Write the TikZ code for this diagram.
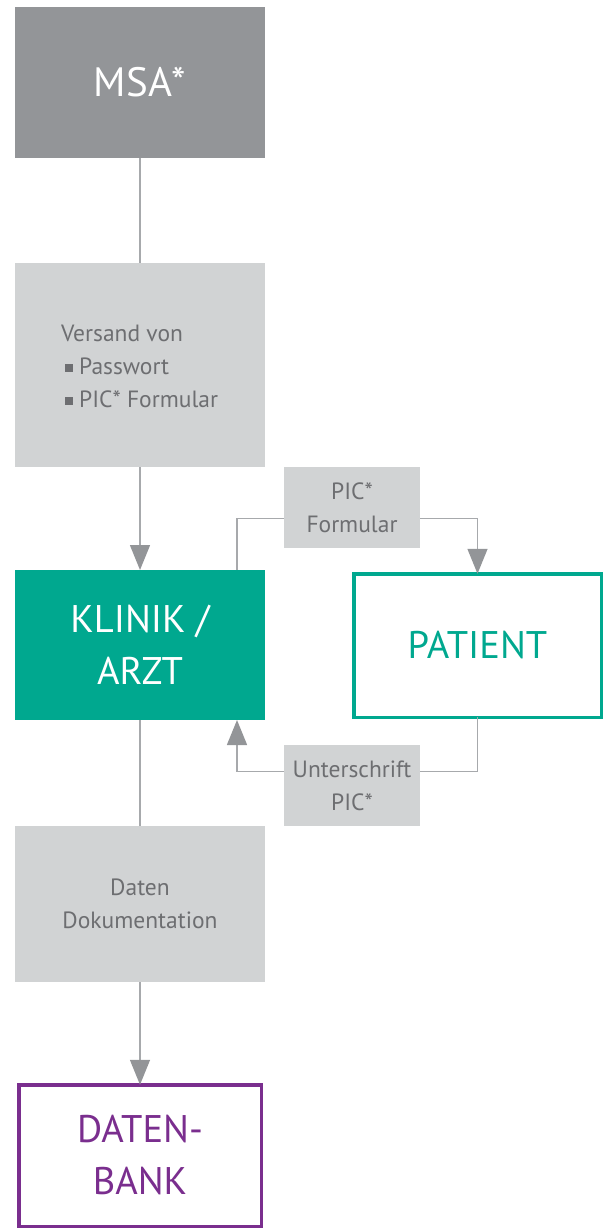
\documentclass[tikz,border=0pt]{standalone}
\usepackage{fontspec}
\setmainfont{PT Sans}
\usetikzlibrary{arrows.meta}
\definecolor{msagray}{HTML}{939598}
\definecolor{lightbox}{HTML}{D1D3D4}
\definecolor{txtgray}{HTML}{6D6E71}
\definecolor{linegray}{HTML}{A7A9AC}
\definecolor{tipgray}{HTML}{939598}
\definecolor{teal}{HTML}{00A88F}
\definecolor{purp}{HTML}{7A2E8E}
\newcommand{\bulsq}{\textcolor{txtgray}{\rule[2pt]{8pt}{8pt}}}
\begin{document}
\begin{tikzpicture}[x=1pt,y=-1pt,
  box/.style={inner sep=0pt,outer sep=0pt,align=center},
  bigtxt/.style={font=\fontsize{38.5}{52}\selectfont},
  smalltxt/.style={font=\fontsize{23.5}{33}\selectfont,text=txtgray},
  conn/.style={draw=linegray,line width=1.5pt},
  tip/.style={-{Triangle[width=20pt,length=25pt,color=tipgray]}}
]
\useasboundingbox (0,0) rectangle (611,1230);
\node[box,fill=msagray,minimum width=250pt,minimum height=151pt,font=\fontsize{41}{52}\selectfont,text=white] (msa) at (140,82.5) {MSA*};
\node[box,fill=lightbox,minimum width=250pt,minimum height=204pt] (versand) at (140,365) {};
\node[smalltxt,anchor=west,align=left,inner sep=0pt] (vtext) at (61,366) {Versand von\\\hspace{4pt}\bulsq\hspace{6pt}Passwort\\\hspace{4pt}\bulsq\hspace{6pt}PIC* Formular};
\node[box,fill=teal,minimum width=250pt,minimum height=150pt,bigtxt,text=white] (klinik) at (140,645) {KLINIK /\\ARZT};
\node[box,fill=lightbox,minimum width=136pt,minimum height=81pt,smalltxt] (pic) at (352,507.5) {PIC*\\Formular};
\node[box,draw=teal,line width=3.5pt,minimum width=247.5pt,minimum height=143.5pt,bigtxt,text=teal] (patient) at (477.5,645.5) {PATIENT};
\node[box,fill=lightbox,minimum width=136pt,minimum height=81pt,smalltxt] (unter) at (352,785.5) {Unterschrift\\PIC*};
\node[box,fill=lightbox,minimum width=250pt,minimum height=156pt,smalltxt] (daten) at (140,904) {Daten\\Dokumentation};
\node[box,draw=purp,line width=3.5pt,minimum width=242.5pt,minimum height=141.5pt,bigtxt,text=purp] (bank) at (140,1155.5) {DATEN-\\BANK};
\draw[conn] (msa.south) -- (versand.north);
\draw[conn,tip] (versand.south) -- (klinik.north);
\draw[conn] ([xshift=-28pt]klinik.north east) |- ([yshift=-11pt]pic.west);
\draw[conn,tip] ([yshift=-11pt]pic.east) -| (patient.north);
\draw[conn] (patient.south) |- ([yshift=14pt]unter.east);
\draw[conn,tip] ([yshift=14pt]unter.west) -| ([xshift=-28pt]klinik.south east);
\draw[conn] (klinik.south) -- (daten.north);
\draw[conn,tip] (daten.south) -- (bank.north);
\end{tikzpicture}
\end{document}
